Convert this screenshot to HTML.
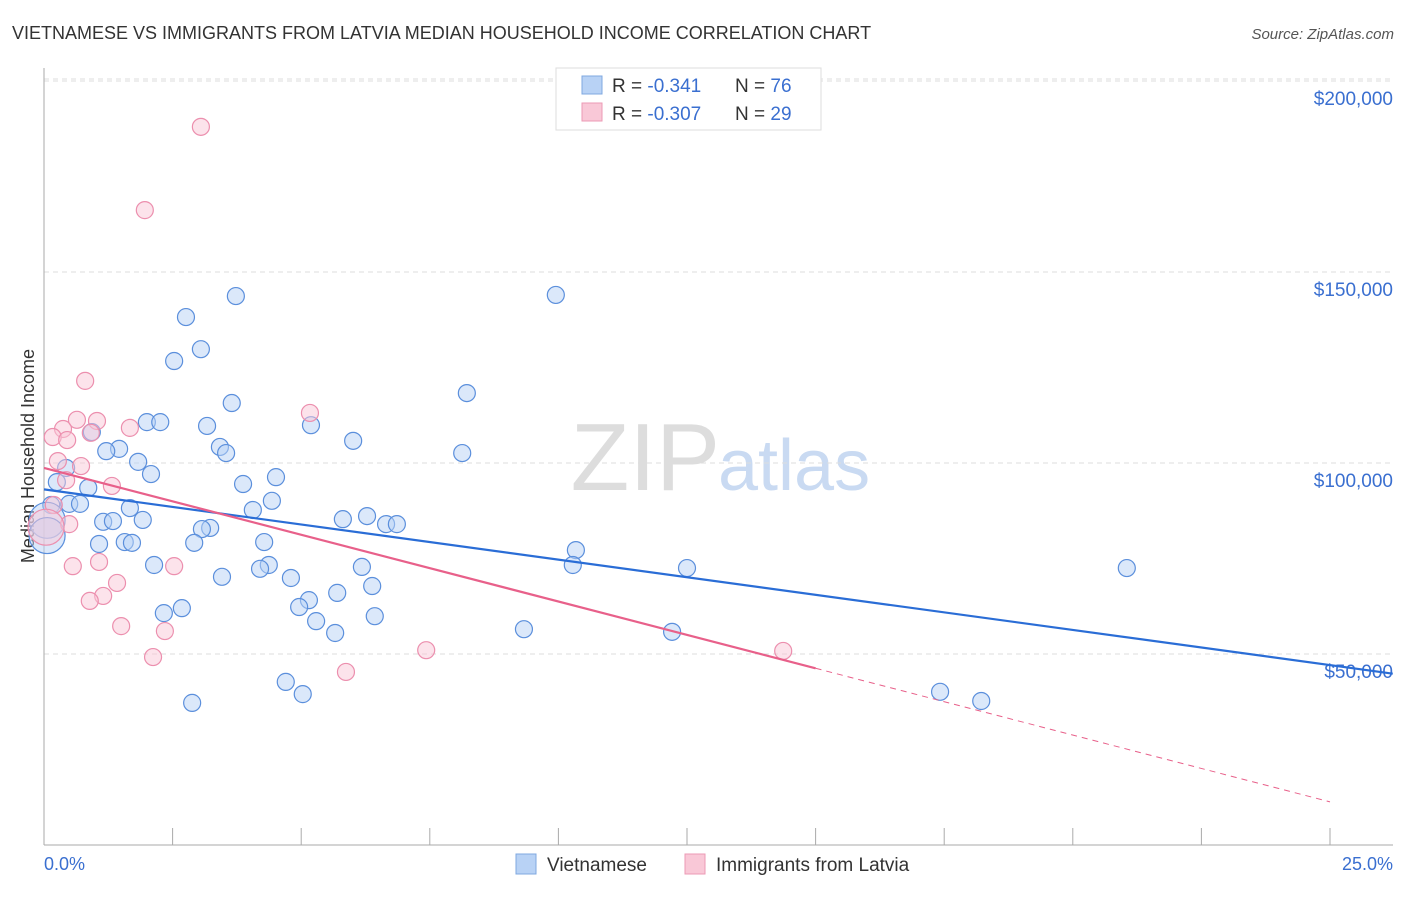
<!DOCTYPE html>
<html><head><meta charset="utf-8"><style>
body{margin:0;background:#fff;font-family:"Liberation Sans",sans-serif}
svg text{font-family:"Liberation Sans",sans-serif}
</style></head><body>
<svg id="chart" width="1406" height="892">
<text x="12" y="39" font-size="18" fill="#333">VIETNAMESE VS IMMIGRANTS FROM LATVIA MEDIAN HOUSEHOLD INCOME CORRELATION CHART</text>
<text x="1394" y="39" font-size="15" fill="#555" text-anchor="end" font-style="italic">Source: ZipAtlas.com</text>
<text x="0" y="0" transform="translate(34,456) rotate(-90)" font-size="18" fill="#333" text-anchor="middle">Median Household Income</text>
<text x="720" y="490" font-size="96" fill="#ddd" text-anchor="end" font-family="Liberation Serif">ZIP</text>
<text x="718" y="490" font-size="72" fill="#c9daf2">atlas</text>
<g id="grid"></g><g id="axes"></g><g id="pts"></g><g id="lines"></g>
<g>
<rect x="556" y="68" width="265" height="62" fill="#fff" stroke="#ddd"/>
<rect x="582" y="76" width="20" height="18" fill="#b8d2f5" stroke="#7fa8e0"/>
<text x="612" y="92" font-size="19" fill="#333">R = <tspan fill="#3a6fd0"> -0.341</tspan><tspan x="735">N = </tspan><tspan fill="#3a6fd0">76</tspan></text>
<rect x="582" y="103" width="20" height="18" fill="#f9c8d7" stroke="#ec9ab4"/>
<text x="612" y="120" font-size="19" fill="#333">R = <tspan fill="#3a6fd0">-0.307</tspan><tspan x="735">N = </tspan><tspan fill="#3a6fd0">29</tspan></text>
</g>
<g>
<rect x="516" y="854" width="20" height="20" fill="#b8d2f5" stroke="#7fa8e0"/>
<text x="547" y="871" font-size="19" fill="#333">Vietnamese</text>
<rect x="685" y="854" width="20" height="20" fill="#f9c8d7" stroke="#ec9ab4"/>
<text x="716" y="871" font-size="19" fill="#333">Immigrants from Latvia</text>
</g>
<text x="44" y="870" font-size="18" fill="#3a6fd0">0.0%</text>
<text x="1393" y="870" font-size="18" fill="#3a6fd0" text-anchor="end">25.0%</text>
</svg>
<script>
const yTicks=[50000,100000,150000,200000];
const yTickLabels=["$50,000","$100,000","$150,000","$200,000"];
const blueX=[3.73,9.95,2.76,3.05,2.53,8.22,3.65,2.00,2.26,5.19,3.17,0.93,6.01,1.46,1.21,3.42,3.54,8.13,1.83,2.08,0.43,4.51,0.25,3.87,0.86,4.43,0.49,0.70,0.14,1.67,4.06,6.28,5.81,6.65,6.86,1.15,1.34,1.92,3.23,3.07,1.07,1.57,1.71,4.28,2.92,10.34,2.14,10.28,4.37,4.20,6.18,12.50,21.05,3.46,4.80,6.38,5.70,5.15,4.96,2.68,2.33,5.29,6.43,9.33,5.66,12.21,17.42,18.22,4.70,5.03,2.88,0.06,0.06];
const blueY=[143.7,144.0,138.2,129.8,126.7,118.3,115.7,110.7,110.7,109.9,109.7,108.1,105.8,103.7,103.1,104.2,102.6,102.6,100.3,97.1,98.7,96.3,95.0,94.5,93.5,90.1,89.3,89.3,89.0,88.2,87.7,86.1,85.3,84.0,84.0,84.6,84.8,85.1,83.0,82.7,78.8,79.3,79.1,79.3,79.1,77.2,73.3,73.3,73.3,72.3,72.8,72.5,72.5,70.2,69.9,67.8,66.0,64.1,62.3,62.0,60.7,58.6,59.9,56.5,55.5,55.8,40.1,37.7,42.7,39.5,37.2,85,81];
const blueBig=[71,72];
const pinkX=[3.05,1.96,0.80,5.17,1.03,0.64,1.67,0.37,0.17,0.45,0.91,0.27,0.72,1.32,0.43,0.19,0.49,0.04,1.07,0.56,2.53,1.15,0.89,1.42,1.50,2.35,2.12,7.43,14.37,5.87];
const pinkY=[188.0,166.2,121.5,113.1,111.0,111.3,109.2,108.9,106.8,106.0,107.9,100.5,99.2,94.0,95.5,89.0,84.0,83.2,74.1,73.0,73.0,65.2,63.9,68.6,57.3,56.0,49.2,51.0,50.8,45.3];
const pinkBig=[17];
const blueTrend=[93.1,47.1];
const pinkTrend=[98.7,11.3];
const X=p=>44+p*51.44;
const Y=v=>845-v/50000*191;
const NS="http://www.w3.org/2000/svg";
function mk(t,a,parent){const e=document.createElementNS(NS,t);for(const k in a)e.setAttribute(k,a[k]);document.getElementById(parent).appendChild(e);return e;}
yTicks.forEach((v,i)=>{
 const g=mk("line",{x1:44,x2:1393,y1:Y(v),y2:Y(v),stroke:"#ddd","stroke-dasharray":"5,4"},"grid");
 
 
 const t=mk("text",{x:1393,y:Y(v)+24,"font-size":19,fill:"#3a6fd0","text-anchor":"end"},"grid");
 t.textContent=yTickLabels[i];
 
 
});
const topLine=mk("line",{x1:44,x2:1393,y1:79,y2:79,stroke:"#ddd","stroke-dasharray":"5,4"},"grid");


const ya=mk("line",{x1:44,x2:44,y1:68,y2:845,stroke:"#aaa"},"axes");


const xa=mk("line",{x1:44,x2:1393,y1:845,y2:845,stroke:"#aaa"},"axes");


for(let i=1;i<=10;i++){
 const tk=mk("line",{x1:X(i*2.5),x2:X(i*2.5),y1:828,y2:845,stroke:"#aaa"},"axes");
 
 
}
function pts(xs,ys,big,fill,stroke,name){
 xs.forEach((x,i)=>{
  const c=mk("circle",{cx:X(x),cy:Y(ys[i]*1000),r:big.includes(i)?18:8.5,fill:fill,"fill-opacity":0.5,stroke:stroke,"stroke-width":1.2},"pts");
  
  
 });
}
pts(blueX,blueY,blueBig,"#b8d2f5","#5b8fdc","point-vietnamese");
pts(pinkX,pinkY,pinkBig,"#f9c8d7","#ec8fae","point-latvia");
const bs=(blueTrend[1]-blueTrend[0])/25;
const bl=mk("line",{x1:X(0),y1:Y(blueTrend[0]*1000),x2:X(26.22),y2:Y((blueTrend[0]+bs*26.22)*1000),stroke:"#2a6dd6","stroke-width":2.2},"lines");


const ps=(pinkTrend[1]-pinkTrend[0])/25;
const pl=mk("line",{x1:X(0),y1:Y(pinkTrend[0]*1000),x2:X(15),y2:Y((pinkTrend[0]+ps*15)*1000),stroke:"#e8608a","stroke-width":2.2},"lines");


const pd=mk("line",{x1:X(15),y1:Y((pinkTrend[0]+ps*15)*1000),x2:X(25),y2:Y(pinkTrend[1]*1000),stroke:"#e8608a","stroke-width":1,"stroke-dasharray":"6,5"},"lines");


</script>
</body></html>
